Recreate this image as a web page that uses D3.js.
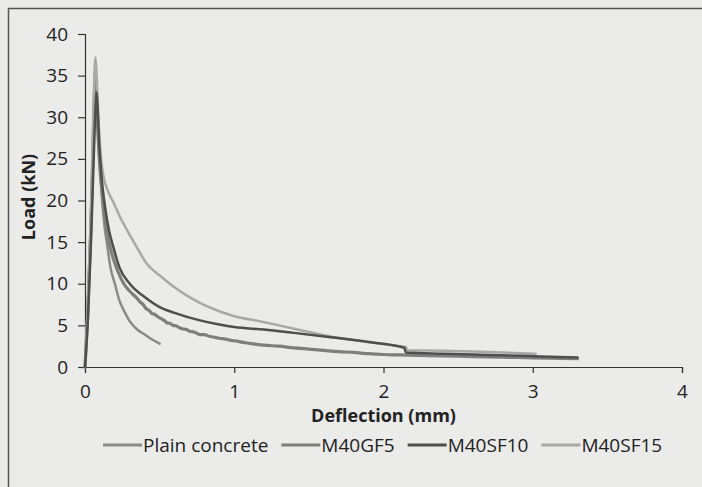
<!DOCTYPE html>
<html>
<head>
<meta charset="utf-8">
<script src="https://cdn.jsdelivr.net/npm/d3@7"></script>
<style>
  html, body { margin: 0; padding: 0; background: #ebebea; }
  svg { display: block; }
  text { font-family: "Open Sans", Lato, sans-serif; fill: #222; }
</style>
</head>
<body>
<svg id="chart" width="702" height="487"></svg>
<script>
// Load–deflection curves (deflection in mm, load in kN)
const seriesNames = ["Plain concrete", "M40GF5", "M40SF10", "M40SF15"];

const plainX = [0, 0.02, 0.04, 0.055, 0.065, 0.072, 0.08, 0.09, 0.1, 0.115, 0.13, 0.15, 0.17, 0.2, 0.23, 0.26, 0.3, 0.35, 0.4, 0.45, 0.5];
const plainY = [0, 8, 18, 28, 34.5, 35, 31, 27, 24, 20, 17, 14.5, 12, 10, 8, 6.8, 5.5, 4.5, 3.9, 3.3, 2.8];

const gf5X = [0, 0.02, 0.04, 0.055, 0.065, 0.072, 0.08, 0.09, 0.1, 0.12, 0.15, 0.18, 0.22, 0.26, 0.3, 0.346, 0.37, 0.39, 0.41, 0.43, 0.45, 0.47, 0.49, 0.51, 0.53, 0.55, 0.57, 0.59, 0.61, 0.63, 0.65, 0.68, 0.7, 0.73, 0.77, 0.8, 0.83, 0.86, 0.9, 0.94, 0.98, 1.02, 1.06, 1.1, 1.14, 1.2, 1.3, 1.4, 1.5, 1.6, 1.7, 1.8, 1.9, 2.0, 2.1, 2.3, 2.5, 2.7, 2.9, 3.1, 3.3];
const gf5Y = [0, 7, 17, 27, 33, 34, 31, 27, 24, 20, 16, 13.6, 11.5, 10, 9.1, 8.3, 7.8, 7.5, 7.0, 6.8, 6.4, 6.3, 6.0, 5.8, 5.6, 5.3, 5.25, 5.0, 4.95, 4.75, 4.6, 4.5, 4.3, 4.2, 3.9, 3.9, 3.7, 3.6, 3.45, 3.35, 3.2, 3.1, 2.95, 2.85, 2.75, 2.62, 2.5, 2.3, 2.15, 2.0, 1.85, 1.75, 1.6, 1.5, 1.45, 1.35, 1.3, 1.2, 1.15, 1.05, 1.0];

const sf10X = [0, 0.02, 0.04, 0.06, 0.07, 0.078, 0.085, 0.095, 0.11, 0.134, 0.16, 0.19, 0.23, 0.3, 0.4, 0.5, 0.6, 0.77, 0.9, 1.0, 1.2, 1.4, 1.66, 1.9, 2.11, 2.14, 2.15, 2.4, 2.7, 3.0, 3.3];
const sf10Y = [0, 6, 15, 26, 31, 33, 31, 27, 23, 19.3, 16.5, 14.4, 12, 10, 8.4, 7.2, 6.5, 5.6, 5.1, 4.8, 4.5, 4.1, 3.55, 3.0, 2.45, 2.3, 1.75, 1.6, 1.45, 1.3, 1.15];

const sf15X = [0, 0.02, 0.04, 0.055, 0.065, 0.07, 0.078, 0.09, 0.105, 0.123, 0.15, 0.19, 0.23, 0.28, 0.35, 0.41, 0.5, 0.59, 0.7, 0.815, 1.0, 1.17, 1.3, 1.5, 1.66, 1.9, 2.11, 2.15, 2.16, 2.4, 2.7, 3.02];
const sf15Y = [0, 8, 19, 30, 36, 37.2, 35, 30, 25.5, 23, 21.3, 19.8, 18.2, 16.5, 14.3, 12.5, 11, 9.7, 8.4, 7.3, 6.1, 5.5, 5.0, 4.2, 3.6, 3.0, 2.5, 2.4, 2.0, 1.95, 1.8, 1.6];

const xTicks = [0, 1, 2, 3, 4];
const yTicks = [0, 5, 10, 15, 20, 25, 30, 35, 40];

const seriesX = [plainX, gf5X, sf10X, sf15X];
const seriesY = [plainY, gf5Y, sf10Y, sf15Y];
const colors = ["#8a8a8a", "#7e7e7e", "#4e4e4e", "#a8a8a8"];
const widths = [2.5, 3.2, 2.5, 2.5];

const svg = d3.select("#chart");

// outer frame (extends past the right and bottom edges)
svg.append("rect")
  .attr("x", 8.5).attr("y", 8.5)
  .attr("width", 760).attr("height", 560)
  .attr("fill", "#ebebea")
  .attr("stroke", "#555").attr("stroke-width", 1.5);

const x = d3.scaleLinear().domain([0, 4]).range([85, 682]);
const y = d3.scaleLinear().domain([0, 40]).range([367, 34]);

const xAxis = svg.append("g")
  .attr("transform", `translate(0,${y(0)})`)
  .call(d3.axisBottom(x).tickValues(xTicks).tickFormat(d3.format("d")).tickSize(6).tickPadding(12));
const yAxis = svg.append("g")
  .attr("transform", `translate(${x(0)},0)`)
  .call(d3.axisLeft(y).tickValues(yTicks).tickFormat(d3.format("d")).tickSize(7).tickPadding(10));

[xAxis, yAxis].forEach(g => {
  g.select(".domain").attr("stroke", "#333").attr("stroke-width", 1.2);
  g.selectAll(".tick line").attr("stroke", "#333").attr("stroke-width", 1.2);
  g.selectAll(".tick text").attr("font-size", 19).attr("fill", "#222")
    .style("font-family", "'Open Sans', Lato, sans-serif");
});

// curves
const line = d3.line().x(d => x(d[0])).y(d => y(d[1])).curve(d3.curveMonotoneX);
const order = [0, 1, 3, 2];
order.forEach(i => {
  const pts = seriesX[i].map((v, k) => [v, seriesY[i][k]]);
  svg.append("path")
    .datum(pts)
    .attr("d", line)
    .attr("fill", "none")
    .attr("stroke", colors[i])
    .attr("stroke-width", widths[i])
    .attr("stroke-linejoin", "round")
    .attr("stroke-linecap", "round");
});

// axis titles
svg.append("text")
  .attr("x", x(2)).attr("y", 422)
  .attr("text-anchor", "middle")
  .attr("font-size", 18).attr("font-weight", "bold")
  .text("Deflection (mm)");

svg.append("text")
  .attr("transform", `translate(35,197) rotate(-90)`)
  .attr("text-anchor", "middle")
  .attr("font-size", 18).attr("font-weight", "bold")
  .text("Load (kN)");

// legend
const legend = svg.append("g");
let lx = 103;
const ly = 445;
seriesNames.forEach((name, i) => {
  legend.append("line")
    .attr("x1", lx).attr("x2", lx + 39)
    .attr("y1", ly).attr("y2", ly)
    .attr("stroke", colors[i]).attr("stroke-width", 3);
  const t = legend.append("text")
    .attr("x", lx + 40).attr("y", ly + 7)
    .attr("font-size", 19)
    .text(name);
  lx += 40 + t.node().getComputedTextLength() + 13;
});
</script>
</body>
</html>
